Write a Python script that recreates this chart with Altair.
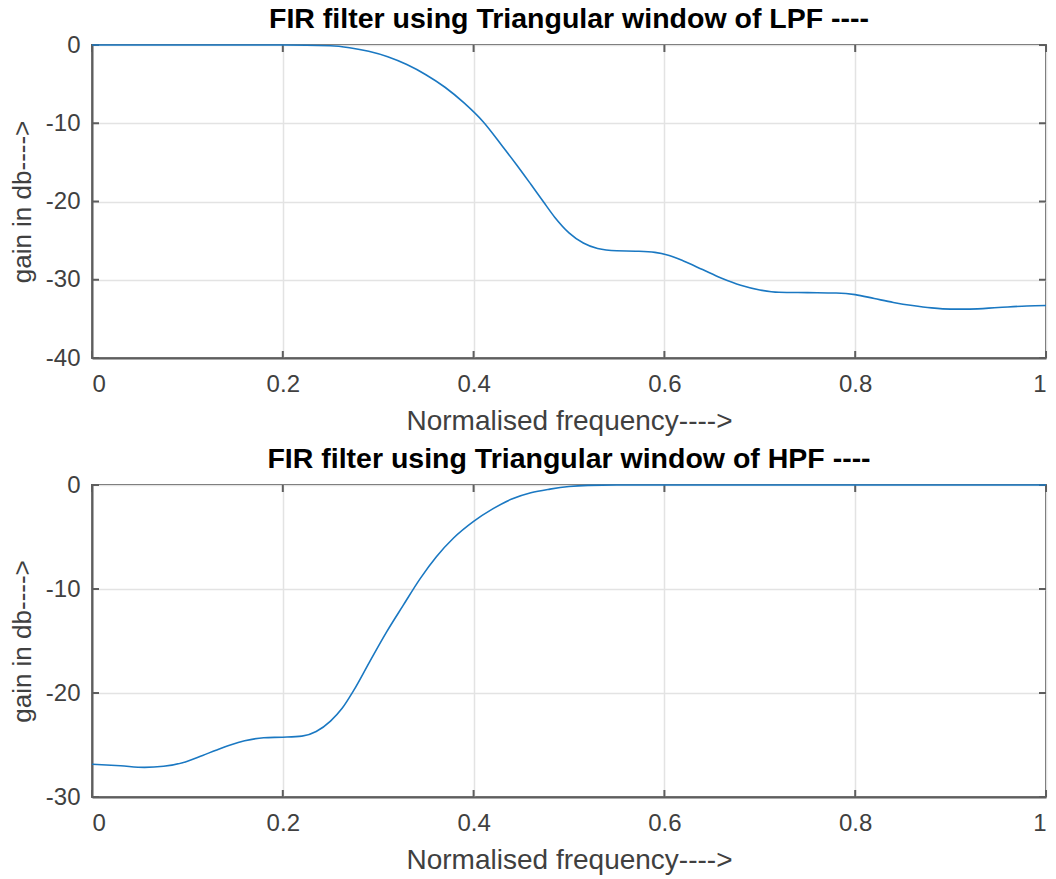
import altair as alt
import pandas as pd

# ---- data ----
lpf_freq = [0, 0.05, 0.1, 0.15, 0.2, 0.25, 0.27, 0.29, 0.31, 0.33, 0.35, 0.37, 0.39, 0.41,
            0.43, 0.445, 0.46, 0.473, 0.485, 0.5, 0.515, 0.53, 0.55, 0.57, 0.59, 0.605,
            0.62, 0.64, 0.66, 0.68, 0.7, 0.72, 0.75, 0.78, 0.8, 0.82, 0.84, 0.86, 0.88,
            0.9, 0.92, 0.95, 0.98, 1.0]
lpf_gain = [0, 0, 0, 0, 0, -0.1, -0.35, -0.8, -1.5, -2.5, -3.8, -5.4, -7.4, -9.8,
            -12.9, -15.3, -17.8, -20.0, -22.0, -24.0, -25.3, -26.0, -26.3, -26.35, -26.5, -26.9,
            -27.6, -28.7, -29.8, -30.7, -31.3, -31.6, -31.65, -31.7, -31.9, -32.4, -32.9, -33.3, -33.6,
            -33.75, -33.75, -33.55, -33.35, -33.3]

hpf_freq = [0, 0.03, 0.055, 0.075, 0.095, 0.116, 0.13, 0.145, 0.16, 0.18, 0.2, 0.22, 0.235, 0.25,
            0.262, 0.274, 0.291, 0.309, 0.326, 0.344, 0.361, 0.379, 0.4, 0.42, 0.44, 0.46, 0.48,
            0.5, 0.52, 0.55, 0.6, 0.7, 0.8, 0.9, 1.0]
hpf_gain = [-26.85, -27.0, -27.15, -27.05, -26.7, -26.0, -25.5, -25.0, -24.6, -24.3, -24.25, -24.15, -23.7, -22.7,
            -21.5, -19.8, -17.0, -14.1, -11.6, -9.0, -6.9, -5.1, -3.5, -2.3, -1.35, -0.75, -0.4,
            -0.15, -0.04, 0, 0, 0, 0, 0, 0]

x_ticks = [0, 0.2, 0.4, 0.6, 0.8, 1.0]
lpf_yticks = [-40, -30, -20, -10, 0]
hpf_yticks = [-30, -20, -10, 0]

titles = ["FIR filter using Triangular window of LPF ----",
          "FIR filter using Triangular window of HPF ----"]
x_title = "Normalised frequency---->"
y_title = "gain in db---->"

FONT = "Liberation Sans, Arial, Helvetica, sans-serif"
LINE = "#1a78c2"
BOX = "#5e5e5e"
TXT = "#404040"
W = 954


def panel(freq, gain, ymin, yticks, title, H):
    df = pd.DataFrame({"f": freq, "g": gain})
    xs = alt.Scale(domain=[0, 1], nice=False, zero=False)
    ys = alt.Scale(domain=[ymin, 0], nice=False, zero=False)
    xaxis = alt.Axis(values=x_ticks, labelExpr="datum.value + ''", title=x_title, grid=True,
                     gridColor="#e3e3e3", gridWidth=1.5, tickSize=0,
                     labelPadding=14, labelFontSize=24, titleFontSize=28,
                     labelColor=TXT, titleColor=TXT, titlePadding=11,
                     titleFontWeight="normal", domainColor=BOX, domainWidth=2,
                     labelFont=FONT, titleFont=FONT)
    yaxis = alt.Axis(values=yticks, labelExpr="datum.value + ''", title=y_title, grid=True,
                     gridColor="#e3e3e3", gridWidth=1.5, tickSize=0,
                     labelPadding=12, labelFontSize=24, titleFontSize=26,
                     labelColor=TXT, titleColor=TXT, titlePadding=10,
                     titleFontWeight="normal", domainColor=BOX, domainWidth=2,
                     labelFont=FONT, titleFont=FONT)

    line = alt.Chart(df).mark_line(color=LINE, strokeWidth=1.6, interpolate="monotone").encode(
        x=alt.X("f:Q", scale=xs, axis=xaxis),
        y=alt.Y("g:Q", scale=ys, axis=yaxis),
    )
    xt = pd.DataFrame({"t": x_ticks})
    yt = pd.DataFrame({"t": yticks})
    tb = alt.Chart(xt).mark_rule(color=BOX, strokeWidth=2).encode(
        x=alt.X("t:Q", scale=xs), y=alt.value(H), y2=alt.value(H - 7))
    tt = alt.Chart(xt).mark_rule(color=BOX, strokeWidth=2).encode(
        x=alt.X("t:Q", scale=xs), y=alt.value(0), y2=alt.value(7))
    tl = alt.Chart(yt).mark_rule(color=BOX, strokeWidth=2).encode(
        y=alt.Y("t:Q", scale=ys), x=alt.value(0), x2=alt.value(7))
    tr = alt.Chart(yt).mark_rule(color=BOX, strokeWidth=2).encode(
        y=alt.Y("t:Q", scale=ys), x=alt.value(W), x2=alt.value(W - 7))
    return alt.layer(tb, tt, tl, tr, line).properties(
        width=W, height=H,
        title=alt.TitleParams(title, fontSize=28.5, fontWeight="bold", color="black",
                              font=FONT, offset=0, anchor="middle"),
    )


top = panel(lpf_freq, lpf_gain, -40, lpf_yticks, titles[0], 313)
bottom = panel(hpf_freq, hpf_gain, -30, hpf_yticks, titles[1], 312)

chart = alt.vconcat(top, bottom, spacing=7).properties(
    padding={"left": 8, "top": 3, "right": 2, "bottom": 3},
    background="white",
).configure_view(stroke=BOX, strokeWidth=2)

chart.save("out.html", embed_options={"renderer": "svg", "actions": False})
